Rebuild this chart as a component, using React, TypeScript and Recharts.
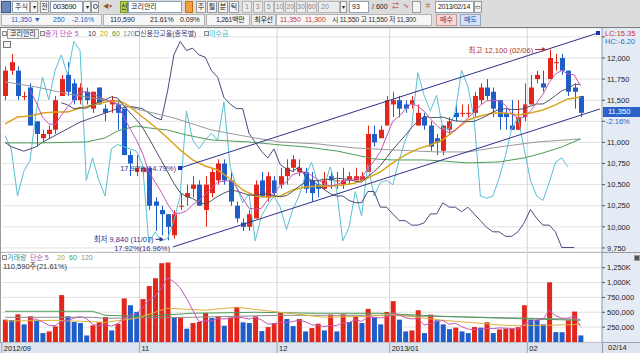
import React from "react";
import {
  ComposedChart,
  Bar,
  Line,
  XAxis,
  YAxis,
  CartesianGrid,
  ReferenceLine,
  ReferenceDot,
  Cell,
} from "recharts";

// 코리안리(003690) daily bars, 2012/09/28 ~ 2013/02/14 (93 bars)
const opens = [
  11550, 11850, 11850, 11550, 11650, 11250, 11050, 11100, 11150, 11550,
  11800, 11700, 11500, 11600, 11400, 11650, 11400, 11450, 11450, 11400,
  10850, 10650, 10650, 10700, 10300, 10200, 10150, 9900, 10250, 10350,
  10450, 10500, 10200, 10400, 10550, 10750, 10550, 10250, 10050, 10000,
  10100, 10550, 10350, 10550, 10500, 10600, 10700, 10650, 10650, 10550,
  10500, 10450, 10600, 10550, 10500, 10550, 10550, 10550, 10650, 11100,
  11050, 11200, 11450, 11500, 11450, 11450, 11200, 11300, 11200, 11050,
  10900, 11150, 11350, 11350, 11350, 11350, 11500, 11650, 11600, 11500,
  11350, 11200, 11150, 11300, 11450, 11750, 11700, 11750, 11950, 12000,
  11850, 11650, 11550,
];
const highs = [
  11900, 12050, 11900, 11600, 11700, 11250, 11150, 11200, 11550, 11800,
  11950, 11750, 11700, 11650, 11600, 11650, 11450, 11550, 11500, 11400,
  10900, 10850, 10700, 10700, 10350, 10250, 10150, 10200, 10400, 10500,
  10600, 10550, 10600, 10700, 10800, 10800, 10650, 10300, 10100, 10200,
  10550, 10650, 10650, 10600, 10700, 10800, 10850, 10800, 10700, 10650,
  10550, 10650, 10650, 10650, 10700, 10650, 10700, 10650, 11200, 11200,
  11200, 11550, 11600, 11550, 11500, 11550, 11450, 11350, 11250, 11100,
  11200, 11300, 11450, 11450, 11450, 11600, 11700, 11750, 11650, 11500,
  11400, 11500, 11500, 11700, 11800, 11850, 11850, 12100, 12050, 12050,
  11850, 11700, 11550,
];
const lows = [
  11500, 11800, 11500, 11500, 11200, 10950, 11000, 11050, 11100, 11550,
  11550, 11450, 11450, 11450, 11350, 11450, 11250, 11350, 11150, 10850,
  10600, 10600, 10600, 10200, 9950, 9900, 9840, 9860, 10200, 10250,
  10350, 10250, 10000, 10350, 10500, 10500, 10250, 10050, 9950, 9950,
  10100, 10350, 10300, 10350, 10450, 10500, 10650, 10600, 10400, 10300,
  10350, 10450, 10450, 10450, 10450, 10500, 10550, 10550, 10650, 10950,
  11050, 11200, 11300, 11300, 11350, 11400, 11200, 11150, 10900, 10850,
  10850, 11100, 11250, 11300, 11300, 11300, 11450, 11500, 11300, 11150,
  11150, 11150, 11150, 11250, 11450, 11700, 11600, 11750, 11850, 11800,
  11550, 11400, 11300,
];
const closes = [
  11850, 11950, 11550, 11550, 11200, 11100, 11100, 11150, 11500, 11750,
  11600, 11500, 11650, 11500, 11600, 11450, 11350, 11500, 11350, 10850,
  10750, 10700, 10700, 10250, 10250, 10150, 10000, 10150, 10250, 10400,
  10500, 10250, 10500, 10650, 10750, 10550, 10300, 10100, 10000, 10150,
  10500, 10350, 10600, 10400, 10600, 10700, 10800, 10700, 10450, 10400,
  10450, 10550, 10550, 10550, 10550, 10600, 10600, 10600, 11100, 11000,
  11150, 11500, 11500, 11400, 11400, 11500, 11350, 11200, 10950, 11000,
  11200, 11250, 11300, 11350, 11350, 11550, 11650, 11550, 11400, 11300,
  11300, 11150, 11300, 11450, 11650, 11800, 11650, 12000, 11950, 11850,
  11600, 11600, 11350,
];
const volumes = [
  376000, 370000, 466000, 297000, 432000, 353000, 150000, 178000, 263000, 789000,
  432000, 336000, 319000, 110000, 280000, 336000, 421000, 195000, 308000, 733000,
  619000, 506000, 721000, 941000, 1072000, 1326000, 1337000, 404000, 410000, 224000,
  319000, 336000, 489000, 404000, 432000, 274000, 410000, 590000, 331000, 319000,
  432000, 183000, 251000, 319000, 489000, 387000, 268000, 387000, 178000, 234000,
  308000, 195000, 461000, 178000, 466000, 336000, 432000, 319000, 557000, 421000,
  297000, 506000, 687000, 376000, 178000, 195000, 534000, 150000, 461000, 365000,
  297000, 217000, 241000, 178000, 150000, 251000, 241000, 331000, 150000, 212000,
  224000, 224000, 251000, 619000, 376000, 370000, 297000, 1004000, 166000, 165000,
  365000, 512000, 110590,
];

// moving averages: [bar index, value]
const ma20Pts = [
  [0, 11219], [2, 11301], [4, 11313], [6, 11349], [8, 11361], [10, 11361], [12, 11408],
  [14, 11444], [16, 11479], [18, 11491], [19, 11467], [20, 11420], [22, 11301], [24, 11183],
  [26, 11053], [28, 10911], [30, 10792], [32, 10721], [34, 10674], [36, 10567], [38, 10437],
  [40, 10366], [42, 10354], [44, 10366], [46, 10437], [48, 10473], [50, 10485], [52, 10485],
  [54, 10496], [56, 10520], [58, 10579], [60, 10650], [62, 10757], [64, 10852], [66, 10923],
  [68, 10970], [70, 11029], [72, 11148], [74, 11266], [76, 11313], [78, 11349], [80, 11349],
  [82, 11325], [84, 11349], [86, 11384], [88, 11444], [90, 11515], [92, 11538],
];
const ma60Pts = [
  [0, 10994], [6, 10994], [13, 11005], [16, 11053], [18, 11136], [21, 11195], [23, 11171],
  [26, 11147], [29, 11088], [33, 11029], [39, 11005], [44, 10970], [48, 10946], [53, 10899],
  [56, 10852], [59, 10804], [62, 10792], [67, 10792], [70, 10780], [74, 10757], [79, 10769],
  [83, 10816], [86, 10875], [89, 10946], [92, 11041],
];
const ma120Pts = [
  [0, 11716], [5, 11657], [10, 11574], [16, 11503], [21, 11396], [27, 11290], [33, 11147],
  [39, 11065], [44, 11005], [50, 10982], [56, 10934], [62, 10911], [69, 10887], [74, 10887],
  [79, 10946], [85, 11005], [92, 11041],
];
const volMa20Pts = [
  [0, 353000], [8, 365000], [16, 331000], [21, 399000], [26, 568000], [32, 534000],
  [37, 585000], [44, 500000], [51, 416000], [58, 432000], [62, 466000], [70, 365000],
  [80, 280000], [86, 280000], [92, 297000],
];
const volMa60Pts = [
  [0, 517000], [14, 517000], [16, 449000], [22, 432000], [30, 483000], [40, 500000],
  [50, 483000], [60, 483000], [70, 432000], [80, 399000], [92, 365000],
];
const volMa120Pts = [
  [0, 416000], [14, 416000], [16, 399000], [30, 416000], [44, 449000], [60, 449000],
  [76, 416000], [92, 382000],
];

// 신용잔고율 and 미수금, each on its own unlabeled scale (0-100)
const creditPts = [
  [0, 49], [1, 47], [2, 46], [3, 45], [4, 46], [5, 47], [6, 49], [8, 52], [10, 55], [12, 58],
  [14, 60], [16, 62], [18, 64], [20, 65], [22, 64], [24, 60], [25, 59], [26, 72], [27, 88],
  [28, 94], [29, 90], [30, 91], [31, 88], [32, 87], [33, 81], [34, 78], [35, 69], [36, 66],
  [37, 64], [38, 64], [39, 53], [40, 49], [41, 45], [42, 42], [43, 46], [44, 39], [45, 37],
  [46, 36], [47, 38], [48, 34], [49, 32], [50, 30], [51, 28], [52, 26], [53, 25], [54, 25],
  [55, 23], [56, 22], [57, 22], [58, 27], [59, 27], [60, 20], [61, 20], [62, 17], [63, 14],
  [64, 14], [65, 12], [66, 12], [67, 13], [68, 17], [69, 17], [70, 22], [71, 20], [72, 20],
  [73, 18], [74, 20], [75, 17], [76, 14], [77, 11], [78, 9], [79, 9], [80, 7], [81, 7],
  [82, 9], [83, 13], [84, 19], [85, 15], [86, 12], [87, 12], [88, 9], [89, 2], [90, 2], [91, 2],
];
const misu = [
  52, 46, 25, 36, 41, 63, 78, 68, 81, 88,
  79, 94, 90, 32, 42, 32, 25, 46, 48, 47,
  46, 45, 39, 4, 9, 5, 6, 14, 25, 63,
  50, 46, 50, 53, 50, 67, 38, 29, 22, 26,
  5, 16, 21, 25, 20, 10, 19, 25, 34, 40,
  31, 29, 38, 28, 5, 11, 27, 16, 39, 25,
  31, 32, 30, 41, 50, 56, 80, 70, 63, 70,
  55, 55, 63, 81, 74, 59, 25, 24, 25, 33,
  43, 55, 60, 46, 32, 25, 23, 31, 40, 42, 38,
];

const monthTicks = [0, 22, 44, 62, 84];
const monthLabels = ["2012/09", "11", "12", "2013/01", "02"];
const priceTicks = [9750, 10000, 10250, 10500, 10750, 11000, 11250, 11500, 11750, 12000, 12250];
const volTicks = [250000, 500000, 750000, 1000000, 1250000];

// trend channel (bar index, price)
const upperChannel = [{ x: 27.98, y: 10697 }, { x: 94.8, y: 12296 }];
const lowerChannel = [{ x: 26.86, y: 9762 }, { x: 95.1, y: 11396 }];

const RED = "#e3261c";
const BLUE = "#1f5ec8";
const NAVY = "#30308c";
const FONT = '"Liberation Sans", "Noto Sans CJK KR", sans-serif';
const X_DOMAIN = [-0.48, 95.44];

function fromPts(pts: number[][], n: number) {
  const a: (number | null)[] = new Array(n).fill(null);
  pts.forEach(([i, v]) => (a[i] = v));
  return a;
}
function sma(arr: number[], n: number) {
  return arr.map((_, i) =>
    i < n - 1 ? null : arr.slice(i - n + 1, i + 1).reduce((s, v) => s + v, 0) / n
  );
}

const N = closes.length;
const ma5 = sma(closes, 5);
const ma10 = sma(closes, 10);
const vma5 = sma(volumes, 5);
const ma20 = fromPts(ma20Pts, N);
const ma60 = fromPts(ma60Pts, N);
const ma120 = fromPts(ma120Pts, N);
const vma20 = fromPts(volMa20Pts, N);
const vma60 = fromPts(volMa60Pts, N);
const vma120 = fromPts(volMa120Pts, N);
const credit = fromPts(creditPts, N);

const rows = closes.map((c, i) => ({
  i,
  o: opens[i],
  h: highs[i],
  l: lows[i],
  c,
  range: [lows[i], highs[i]],
  vol: volumes[i],
  ma5: ma5[i],
  ma10: ma10[i],
  ma20: ma20[i],
  ma60: ma60[i],
  ma120: ma120[i],
  vma5: vma5[i],
  vma20: vma20[i],
  vma60: vma60[i],
  vma120: vma120[i],
  credit: credit[i],
  misu: i < misu.length ? misu[i] : null,
}));

function Candle(props: any) {
  const { x, y, width, height, payload } = props;
  if (!payload || height == null) return null;
  const { o, h, l, c } = payload;
  const span = h - l || 1;
  const toY = (v: number) => y + ((h - v) / span) * height;
  const color = c < o ? BLUE : RED;
  const cx = Math.round(x + width / 2) + 0.5;
  const top = toY(Math.max(o, c));
  const bot = toY(Math.min(o, c));
  return (
    <g>
      <line x1={cx} x2={cx} y1={y} y2={y + height} stroke={color} strokeWidth={1} />
      <rect x={cx - 2.5} y={top} width={5} height={Math.max(1, bot - top)} fill={color} />
    </g>
  );
}

function MonthTick(props: any) {
  const { x, y, payload } = props;
  const k = monthTicks.indexOf(payload.value);
  const left = x - 3.13;
  return (
    <g>
      <line x1={left} x2={left} y1={y} y2={y + 11} stroke="#9aa6b4" />
      <text x={left + 2} y={y + 9} fontSize={7.5} fill="#222" fontFamily={FONT}>
        {monthLabels[k]}
      </text>
    </g>
  );
}

function Box({ x, y, w, h = 12, bg = "#fff", bd = "#8ea0b8", color = "#222", size = 7.5, center = false, children, style = {} }: any) {
  return (
    <div
      style={{
        position: "absolute", left: x, top: y, width: w, height: h, boxSizing: "border-box",
        background: bg, border: bd ? `1px solid ${bd}` : "none", color, fontSize: size,
        lineHeight: `${h - 2}px`, textAlign: center ? "center" : "left", paddingLeft: center ? 0 : 2,
        whiteSpace: "nowrap", overflow: "hidden", ...style,
      }}
    >
      {children}
    </div>
  );
}

function Txt({ x, y, color = "#222", size = 7.5, children, style = {} }: any) {
  return (
    <span style={{ position: "absolute", left: x, top: y, color, fontSize: size, lineHeight: "10px", whiteSpace: "nowrap", ...style }}>
      {children}
    </span>
  );
}

function Sq({ x, y }: any) {
  return <div style={{ position: "absolute", left: x, top: y, width: 3, height: 3, border: "1px solid #8a8a8a", background: "#eee" }} />;
}

function Header() {
  const btn = { bg: "#f4f4f4", bd: "#9a9a9a", center: true };
  const tight = { letterSpacing: -0.3 };
  return (
    <>
      <div style={{ position: "absolute", left: 0, top: 0, width: 640, height: 27, background: "#dcdcdc" }} />
      <Box x={1} y={1} w={10} bg="#6b86ba" bd="#3d5688" />
      <Box x={12} y={1} w={18} size={7}>주식</Box>
      <Box x={30} y={1} w={8} {...btn} size={6}>▾</Box>
      <Box x={40} y={1} w={9} {...btn} size={7}>전</Box>
      <Box x={50} y={1} w={33} style={tight}>003690</Box>
      <Box x={83} y={1} w={8} {...btn} size={6}>▾</Box>
      <Box x={91} y={1} w={8} {...btn}>
        <div style={{ width: 3, height: 3, borderRadius: 3, border: "1px solid #446", margin: "2px 0 0 1px" }} />
      </Box>
      <Box x={101} y={1} w={16} bg="#dcdcdc" bd={null} color="#a05020" size={6}>◀▾</Box>
      <Box x={120} y={1} w={8} bg="#b2d24e" bd="#7a9a2a" center size={7}>신</Box>
      <Box x={128} y={1} w={54} size={7}>코리안리</Box>
      <Box x={185} y={1} w={8} bg="#f2a23c" bd="#c07010" />
      <Box x={196} y={1} w={10} {...btn} size={7}>주</Box>
      <Box x={207} y={1} w={10} {...btn} size={7}>월</Box>
      <Box x={218} y={1} w={10} {...btn} size={7}>분</Box>
      <Box x={229} y={1} w={10} {...btn} size={7}>틱</Box>
      {["1", "3", "5", "10", "20", "30", "60"].map((t, k) => (
        <Box key={t} x={242 + k * 10.8} y={1} w={10} bg="#ececec" bd="#b4b4b4" color="#888" center size={7}>{t}</Box>
      ))}
      <Box x={318} y={1} w={22} bg="#ececec" bd="#b4b4b4" color="#888" size={7}>20</Box>
      <Box x={340} y={1} w={7} {...btn} size={6}>▾</Box>
      <Box x={349} y={1} w={20} size={7}>93</Box>
      <Txt x={372} y={2} size={7}>/ 600</Txt>
      <Box x={390} y={1} w={10} bg="#dcdcdc" bd={null} color="#c03030" size={7}>⇄</Box>
      <Box x={401} y={1} w={10} bg="#dcdcdc" bd={null} color="#c03030" size={7}>∿</Box>
      <Box x={412} y={1} w={9} bg="#f4f4f4" bd="#999" />
      <Box x={423} y={1} w={10} bg="#dcdcdc" bd={null} color="#c08020" size={7}>✲</Box>
      <Box x={435} y={1} w={39} size={7} style={tight}>2013/02/14</Box>
      <Box x={474} y={1} w={8} {...btn} size={6}>▭</Box>

      <Box x={1} y={14} w={101} h={12} bg="#f6f6f6" bd="#b4b4b4" />
      <Txt x={11} y={15} color={BLUE} size={7}>11,350 ▼</Txt>
      <Txt x={53} y={15} color={BLUE} size={7}>250</Txt>
      <Txt x={72} y={15} color={BLUE} size={7}>-2.16%</Txt>
      <Box x={103} y={14} w={102} h={12} bg="#f6f6f6" bd="#b4b4b4" />
      <Txt x={110} y={15} size={7}>110,590</Txt>
      <Txt x={150} y={15} size={7}>21.61%</Txt>
      <Txt x={180} y={15} size={7}>0.09%</Txt>
      <Box x={206} y={14} w={44} h={12} bg="#f6f6f6" bd="#b4b4b4" />
      <Txt x={216} y={15} size={7} style={tight}>1,261백만</Txt>
      <Box x={251} y={14} w={25} h={12} bg="#eeeeee" bd="#b4b4b4" center size={7} style={tight}>최우선</Box>
      <Box x={276} y={14} w={156} h={12} bg="#f6f6f6" bd="#b4b4b4" />
      <Txt x={280} y={15} color="#d03030" size={7}>11,350</Txt>
      <Txt x={305} y={15} color="#d03030" size={7}>11,300</Txt>
      <Txt x={332} y={15} color="#333" size={7} style={tight}>시 11,550 고 11,550 저 11,300</Txt>
      <Box x={436} y={14} w={21} h={12} bg="#f6d6d6" bd="#c49a9a" color="#a02020" center size={7}>매수</Box>
      <Box x={460} y={14} w={21} h={12} bg="#d6e2f6" bd="#94a6c8" color="#2040a0" center size={7}>매도</Box>
    </>
  );
}

function PriceChart() {
  return (
    <ComposedChart width={640} height={224} data={rows} margin={{ top: 0, right: 0, bottom: 0, left: 2 }}>
      <CartesianGrid stroke="#e2e2e2" vertical={false} />
      <XAxis type="number" dataKey="i" domain={X_DOMAIN} ticks={monthTicks} hide allowDataOverflow />
      <YAxis
        orientation="right"
        width={38}
        domain={[9702, 12355]}
        ticks={priceTicks}
        interval={0}
        allowDataOverflow
        tickSize={3}
        tickMargin={2}
        axisLine={{ stroke: "#8c96a4" }}
        tickLine={{ stroke: "#555" }}
        tick={{ fontSize: 7.5, fill: "#222", fontFamily: FONT }}
        tickFormatter={(v: number) => (v === 12250 || v === 11250 ? "" : v.toLocaleString("en-US"))}
      />
      <YAxis yAxisId="ind" hide domain={[0, 100]} allowDataOverflow />
      {monthTicks.slice(1).map((t) => (
        <ReferenceLine key={t} x={t - 0.5} stroke="#d4d4d4" />
      ))}
      <Bar dataKey="range" barSize={5} shape={(p: any) => <Candle {...p} />} isAnimationActive={false} />
      <Line yAxisId="ind" dataKey="misu" stroke="#58c0d4" strokeWidth={1} dot={false} isAnimationActive={false} />
      <Line yAxisId="ind" dataKey="credit" stroke="#4a4a7c" strokeWidth={1} dot={false} connectNulls isAnimationActive={false} />
      <Line dataKey="ma120" stroke="#9a9a9a" strokeWidth={1} dot={false} connectNulls isAnimationActive={false} />
      <Line dataKey="ma60" stroke="#4f9c58" strokeWidth={1} dot={false} connectNulls isAnimationActive={false} />
      <Line dataKey="ma20" stroke="#d8a41c" strokeWidth={1.5} dot={false} connectNulls isAnimationActive={false} />
      <Line dataKey="ma10" stroke="#505060" strokeWidth={1} dot={false} isAnimationActive={false} />
      <Line dataKey="ma5" stroke="#c458b8" strokeWidth={1} dot={false} isAnimationActive={false} />
      <ReferenceLine segment={upperChannel} stroke={NAVY} ifOverflow="visible" />
      <ReferenceLine segment={lowerChannel} stroke={NAVY} ifOverflow="visible" />
      <ReferenceDot
        x={upperChannel[0].x}
        y={upperChannel[0].y}
        r={0}
        ifOverflow="visible"
        shape={(p: any) => (
          <g>
            <rect x={p.cx - 2} y={p.cy - 2} width={4} height={4} fill="#1f2fc0" />
            <text x={p.cx - 4} y={p.cy + 3} textAnchor="end" fontSize={7.5} fill={NAVY} fontFamily={FONT}>
              17.92%(14.79%)
            </text>
          </g>
        )}
      />
      <ReferenceDot
        x={upperChannel[1].x}
        y={upperChannel[1].y}
        r={0}
        ifOverflow="visible"
        shape={(p: any) => <rect x={p.cx - 2} y={p.cy - 2} width={4} height={4} fill="#1f2fc0" />}
      />
      <ReferenceDot
        x={lowerChannel[0].x}
        y={lowerChannel[0].y}
        r={0}
        ifOverflow="visible"
        shape={(p: any) => (
          <text x={p.cx - 3} y={p.cy + 4} textAnchor="end" fontSize={7.5} fill={NAVY} fontFamily={FONT}>
            17.92%(16.96%)
          </text>
        )}
      />
      <ReferenceDot
        x={87}
        y={12100}
        r={0}
        ifOverflow="visible"
        shape={(p: any) => (
          <g>
            <text x={p.cx - 16} y={p.cy + 3} textAnchor="end" fontSize={7.5} fill="#b03434" fontFamily={FONT}>
              최고 12,100 (02/06)
            </text>
            <line x1={p.cx - 14} x2={p.cx - 6} y1={p.cy} y2={p.cy} stroke="#b03434" />
            <path d={`M${p.cx - 3},${p.cy} l-4,-2.5 v5 z`} fill="#b03434" />
          </g>
        )}
      />
      <ReferenceDot
        x={26}
        y={9840}
        r={0}
        ifOverflow="visible"
        shape={(p: any) => (
          <g>
            <text x={p.cx - 14} y={p.cy + 2} textAnchor="end" fontSize={7.5} fill={NAVY} fontFamily={FONT}>
              최저 9,840 (11/07)
            </text>
            <line x1={p.cx - 12} x2={p.cx - 7} y1={p.cy - 1} y2={p.cy - 1} stroke={NAVY} />
            <path d={`M${p.cx - 4},${p.cy - 1} l-4,-2.5 v5 z`} fill={NAVY} />
          </g>
        )}
      />
    </ComposedChart>
  );
}

function VolumeChart() {
  return (
    <ComposedChart width={640} height={101} data={rows} margin={{ top: 0, right: 0, bottom: 0, left: 2 }}>
      <CartesianGrid stroke="#e2e2e2" vertical={false} />
      <XAxis
        type="number"
        dataKey="i"
        domain={X_DOMAIN}
        ticks={monthTicks}
        interval={0}
        height={11}
        allowDataOverflow
        axisLine={false}
        tickLine={false}
        tickSize={0}
        tickMargin={0}
        tick={(p: any) => <MonthTick {...p} />}
      />
      <YAxis
        orientation="right"
        width={38}
        domain={[0, 1514000]}
        ticks={volTicks}
        interval={0}
        allowDataOverflow
        tickSize={3}
        tickMargin={2}
        axisLine={{ stroke: "#8c96a4" }}
        tickLine={{ stroke: "#555" }}
        tick={{ fontSize: 7.5, fill: "#222", fontFamily: FONT }}
        tickFormatter={(v: number) =>
          v >= 1000000 ? `${(v / 1000).toLocaleString("en-US")}K` : v.toLocaleString("en-US")
        }
      />
      {monthTicks.slice(1).map((t) => (
        <ReferenceLine key={t} x={t - 0.5} stroke="#d4d4d4" />
      ))}
      <Bar dataKey="vol" barSize={5} isAnimationActive={false}>
        {rows.map((r, i) => (
          <Cell key={i} fill={i === 0 || r.vol >= volumes[i - 1] ? RED : BLUE} />
        ))}
      </Bar>
      <Line dataKey="vma120" stroke="#8a8a8a" strokeWidth={1} dot={false} connectNulls isAnimationActive={false} />
      <Line dataKey="vma60" stroke="#4f9c58" strokeWidth={1} dot={false} connectNulls isAnimationActive={false} />
      <Line dataKey="vma20" stroke="#e0b040" strokeWidth={1} dot={false} connectNulls isAnimationActive={false} />
      <Line dataKey="vma5" stroke="#c458b8" strokeWidth={1} dot={false} isAnimationActive={false} />
    </ComposedChart>
  );
}

export default function App() {
  return (
    <div
      style={{
        position: "absolute", left: 0, top: 0, width: 640, height: 353, overflow: "hidden",
        background: "#dcdcdc", fontFamily: FONT, fontSize: 7.5,
      }}
    >
      <Header />
      <div style={{ position: "absolute", left: 0, top: 27, width: 640, height: 326, background: "#fff", borderTop: "1px solid #7c7c7c" }} />
      <div style={{ position: "absolute", left: 602, top: 28, width: 38, height: 314, background: "#e4ebf4" }} />
      <div style={{ position: "absolute", left: 0, top: 342, width: 602, height: 11, background: "#dbe4ef", borderTop: "1px solid #9aa6b4" }} />
      <div style={{ position: "absolute", left: 602, top: 342, width: 38, height: 11, background: "#dbe4ef", borderTop: "1px solid #9aa6b4", borderLeft: "1px solid #8c96a4" }} />
      <Txt x={608} y={343}>02/14</Txt>
      <div style={{ position: "absolute", left: 0, top: 28, width: 1, height: 314, background: "#9a9a9a" }} />

      <div style={{ position: "absolute", left: 0, top: 28 }}>
        <PriceChart />
      </div>
      <div style={{ position: "absolute", left: 0, top: 252, width: 640, height: 1, background: "#9a9a9a" }} />
      <div style={{ position: "absolute", left: 0, top: 252 }}>
        <VolumeChart />
      </div>

      {/* price pane legend */}
      <Sq x={2} y={31} />
      <Box x={7} y={29} w={32} h={10} bg="#f2f2f2" bd="#9a9a9a" size={7}>코리안리</Box>
      <Sq x={40} y={31} />
      <Txt x={45} y={29} color="#b04cb0" size={7}>종가 단순 5</Txt>
      <Txt x={88} y={29} color="#333" size={7}>10</Txt>
      <Txt x={100} y={29} color="#c8a000" size={7}>20</Txt>
      <Txt x={112} y={29} color="#3a9a3a" size={7}>60</Txt>
      <Txt x={123} y={29} color="#8a8a8a" size={7}>120</Txt>
      <Sq x={135} y={31} />
      <Txt x={140} y={29} color="#404078" size={7}>신용잔고율(종목별)</Txt>
      <Sq x={204} y={31} />
      <Txt x={209} y={29} color="#36b8cc" size={7}>미수금</Txt>
      <div style={{ position: "absolute", left: 3, top: 41, width: 6, height: 5, border: "1px solid #777", background: "#f4f4f4" }} />

      {/* right axis badges */}
      <Txt x={605} y={29} color="#d03030">LC:15.35</Txt>
      <Txt x={605} y={37} color="#2f6fc0">HC:-6.20</Txt>
      <div style={{ position: "absolute", left: 603, top: 107, width: 37, height: 10, background: "#2a62c9", color: "#fff", fontSize: 7.5, lineHeight: "10px", paddingLeft: 5, boxSizing: "border-box" }}>
        11,350
      </div>
      <Txt x={606} y={117} color="#2a62c9">-2.16%</Txt>

      {/* volume pane legend */}
      <Sq x={2} y={255} />
      <Txt x={7} y={253} color="#2a9aa8" size={7}>거래량</Txt>
      <Txt x={30} y={253} color="#b04cb0" size={7}>단순 5</Txt>
      <Txt x={57} y={253} color="#c8a000" size={7}>20</Txt>
      <Txt x={69} y={253} color="#3a9a3a" size={7}>60</Txt>
      <Txt x={81} y={253} color="#8a8a8a" size={7}>120</Txt>
      <Txt x={3} y={262} color="#333">110,590주(21.61%)</Txt>
      <div style={{ position: "absolute", left: 634, top: 255, width: 4, height: 4, background: "#555", border: "1px solid #999" }} />
    </div>
  );
}
